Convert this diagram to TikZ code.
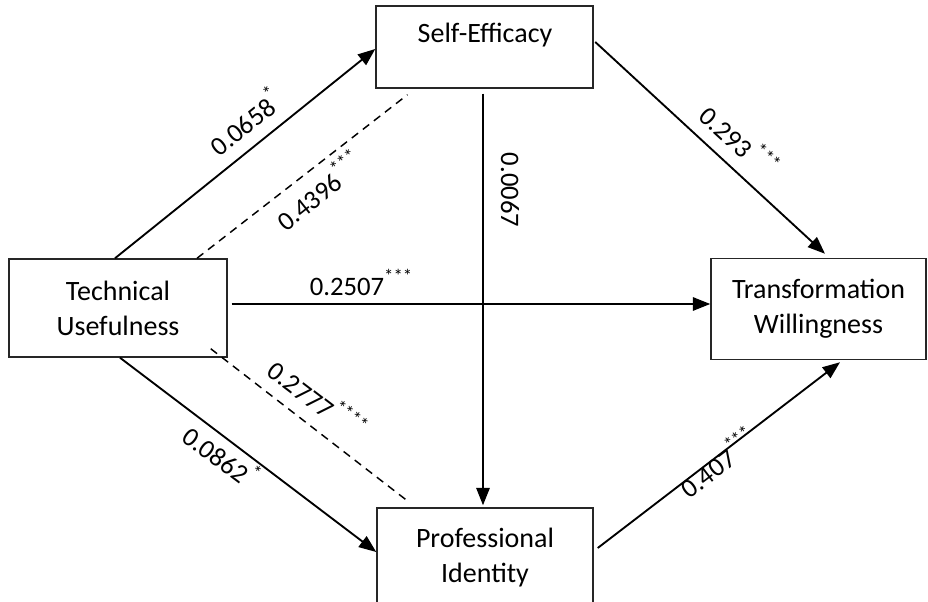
\documentclass[tikz,border=0pt]{standalone}
\usepackage{fontspec}
\setmainfont{Carlito}
\usetikzlibrary{arrows.meta,calc}
% significance stars, raised and smaller
\newcommand{\sig}[1]{\raisebox{0.5em}{\fontsize{14}{14}\selectfont #1}}
\begin{document}
\begin{tikzpicture}[x=0.75pt,y=-0.75pt,
  box/.style={draw=black!85,line width=1.1pt,rectangle,align=center,inner sep=0pt,
    font=\fontsize{21}{26.25}\selectfont},
  boxtext/.style={font=\fontsize{21}{26.25}\selectfont,inner sep=0pt},
  path/.style={line width=1.4pt,-{Triangle[length=13pt,width=10pt]}},
  link/.style={line width=1.1pt,dash pattern=on 6pt off 4.5pt},
  coef/.style={font=\fontsize{20}{24}\selectfont,inner sep=1pt}]
\useasboundingbox (0,0) rectangle (928,602);
\clip (0,0) rectangle (928,602);

% constructs
\node[box,minimum width=163.5pt,minimum height=73.5pt] (tu) at (118,308) {Technical\\Usefulness};
\node[box,minimum width=162.75pt,minimum height=61.5pt] (se) at (484.5,47) {};
\node[boxtext] (setext) at (485,35) {Self-Efficacy};
\node[box,minimum width=161.25pt,minimum height=75.75pt] (tw) at (818.5,309) {Transformation\\Willingness};
\node[box,minimum width=162pt,minimum height=75pt] (pi) at (485,558) {Professional\\Identity};

% paths
\draw[path] ($(tu.north)+(-3,0)$) -- ($(se.west)+(0,2)$);
\draw[link] ($(tu.north)+(79,0)$) -- ($(se.south)+(-77,6)$);
\draw[path] ($(tu.east)+(4,-4)$) -- ($(tw.west)+(0,-5)$);
\draw[link] ($(tu.south east)+(-17,-9)$) -- ($(pi.north west)+(33,-5)$);
\draw[path] ($(tu.south)+(2,0)$) -- ($(pi.west)+(0,-6)$);
\draw[path] ($(se.south)+(-1.5,5)$) -- ($(pi.north)+(-2,-2)$);
\draw[path] ($(se.east)+(1.5,-5)$) -- ($(tw.north)+(6.5,-4)$);
\draw[path] ($(pi.east)+(4,-10)$) -- ($(tw.south)+(21.5,2)$);

% coefficients
\node[coef,rotate=38.8] (c1) at (244,121) {0.0658\sig{*}};
\node[coef,rotate=38.5] (c2) at (318,190) {0.4396\sig{***}};
\node[coef,anchor=base] (c3) at (361,296) {0.2507\sig{***}};
\node[coef,rotate=-37.4] (c4) at (318,398) {0.2777\sig{****}};
\node[coef,rotate=-36.9] (c5) at (222,455) {0.0862\sig{*}};
\node[coef,rotate=-90] (c6) at (510,190) {0.0067};
\node[coef,rotate=-42.5] (c7) at (740,140) {0.293\kern2pt\sig{***}};
\node[coef,rotate=37.2] (c8) at (717,462) {0.407\sig{***}};
\end{tikzpicture}
\end{document}
